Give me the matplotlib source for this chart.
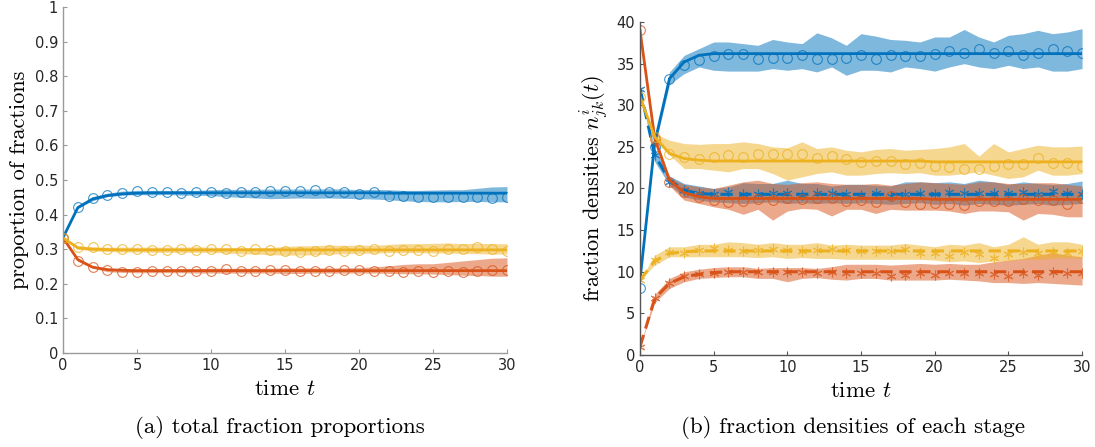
import matplotlib
matplotlib.use('Agg')
import matplotlib.pyplot as plt
from matplotlib.ticker import FormatStrFormatter

plt.rcParams['mathtext.fontset'] = 'cm'
plt.rcParams['font.family'] = 'DejaVu Sans'

# warna default MATLAB
biru = '#0072BD'
merah = '#D95319'
kuning = '#EDB120'

t = list(range(31))

# ---- panel (a): proporsi total ----
a_biru_model = [0.333, 0.420, 0.445, 0.455, 0.460, 0.462, 0.463, 0.463, 0.463, 0.463, 0.463,
                0.463, 0.463, 0.463, 0.463, 0.463, 0.463, 0.463, 0.463, 0.463, 0.463,
                0.463, 0.462, 0.462, 0.462, 0.462, 0.462, 0.462, 0.462, 0.462, 0.462]
a_biru_titik = [0.333, 0.422, 0.448, 0.457, 0.462, 0.467, 0.465, 0.465, 0.462, 0.465, 0.465,
                0.462, 0.465, 0.465, 0.468, 0.468, 0.468, 0.470, 0.465, 0.465, 0.460,
                0.465, 0.455, 0.455, 0.452, 0.452, 0.452, 0.452, 0.450, 0.448, 0.450]
a_biru_atas = [0.333, 0.426, 0.452, 0.462, 0.468, 0.470, 0.470, 0.470, 0.470, 0.470, 0.472,
               0.473, 0.473, 0.473, 0.474, 0.474, 0.474, 0.474, 0.475, 0.474, 0.472,
               0.473, 0.472, 0.470, 0.470, 0.471, 0.472, 0.472, 0.476, 0.480, 0.481]
a_biru_bawah = [0.333, 0.418, 0.440, 0.452, 0.456, 0.458, 0.457, 0.458, 0.456, 0.456, 0.455,
                0.452, 0.450, 0.448, 0.446, 0.447, 0.448, 0.447, 0.448, 0.447, 0.446,
                0.445, 0.443, 0.440, 0.438, 0.437, 0.437, 0.438, 0.438, 0.437, 0.437]

a_kuning_model = [0.333, 0.304, 0.300, 0.299, 0.298, 0.298, 0.298, 0.298, 0.298, 0.298, 0.298,
                  0.298, 0.298, 0.298, 0.298, 0.298, 0.298, 0.298, 0.298, 0.298, 0.298,
                  0.298, 0.298, 0.298, 0.298, 0.298, 0.298, 0.298, 0.298, 0.298, 0.298]
a_kuning_titik = [0.333, 0.305, 0.305, 0.300, 0.302, 0.300, 0.298, 0.298, 0.300, 0.298, 0.300,
                  0.300, 0.296, 0.300, 0.298, 0.295, 0.293, 0.295, 0.298, 0.296, 0.298,
                  0.300, 0.294, 0.298, 0.298, 0.296, 0.302, 0.300, 0.305, 0.300, 0.296]
a_kuning_atas = [0.333, 0.310, 0.307, 0.306, 0.306, 0.306, 0.306, 0.306, 0.306, 0.307, 0.306,
                 0.305, 0.305, 0.305, 0.305, 0.308, 0.310, 0.310, 0.312, 0.311, 0.312,
                 0.311, 0.314, 0.316, 0.316, 0.317, 0.318, 0.316, 0.317, 0.316, 0.316]
a_kuning_bawah = [0.333, 0.300, 0.295, 0.293, 0.292, 0.292, 0.291, 0.291, 0.291, 0.291, 0.291,
                  0.289, 0.287, 0.286, 0.284, 0.283, 0.283, 0.284, 0.286, 0.287, 0.288,
                  0.289, 0.290, 0.290, 0.290, 0.289, 0.289, 0.288, 0.287, 0.286, 0.286]

a_merah_model = [0.333, 0.270, 0.248, 0.241, 0.239, 0.238, 0.238, 0.238, 0.238, 0.238, 0.238,
                 0.238, 0.238, 0.238, 0.238, 0.238, 0.238, 0.238, 0.238, 0.238, 0.238,
                 0.238, 0.238, 0.238, 0.238, 0.238, 0.238, 0.238, 0.238, 0.238, 0.238]
a_merah_titik = [0.333, 0.267, 0.248, 0.240, 0.235, 0.235, 0.238, 0.237, 0.237, 0.238, 0.238,
                 0.243, 0.238, 0.238, 0.240, 0.240, 0.237, 0.238, 0.238, 0.240, 0.240,
                 0.238, 0.237, 0.235, 0.237, 0.235, 0.237, 0.235, 0.238, 0.240, 0.240]
a_merah_atas = [0.333, 0.272, 0.252, 0.244, 0.242, 0.243, 0.243, 0.243, 0.243, 0.243, 0.245,
                0.245, 0.245, 0.245, 0.245, 0.246, 0.246, 0.246, 0.246, 0.246, 0.247,
                0.249, 0.252, 0.256, 0.258, 0.258, 0.262, 0.266, 0.270, 0.274, 0.275]
a_merah_bawah = [0.333, 0.265, 0.245, 0.235, 0.233, 0.232, 0.232, 0.232, 0.232, 0.231, 0.231,
                 0.231, 0.231, 0.231, 0.231, 0.230, 0.230, 0.231, 0.231, 0.231, 0.231,
                 0.231, 0.230, 0.229, 0.229, 0.228, 0.227, 0.225, 0.224, 0.222, 0.222]

# ---- panel (b): densitas tiap tahap ----
b_biru_model = [9.0, 25.5, 33.2, 35.2, 36.0, 36.2, 36.2, 36.2, 36.2, 36.2, 36.2,
                36.2, 36.2, 36.2, 36.2, 36.2, 36.2, 36.2, 36.2, 36.2, 36.2,
                36.2, 36.2, 36.2, 36.2, 36.2, 36.2, 36.2, 36.2, 36.2, 36.2]
b_biru_titik = [8.0, 25.0, 33.2, 34.8, 35.4, 35.9, 36.1, 36.2, 35.6, 35.7, 35.7,
                36.0, 35.6, 35.6, 35.7, 36.0, 35.6, 36.0, 35.9, 35.9, 36.2,
                36.5, 36.3, 36.8, 36.3, 36.5, 36.0, 36.3, 36.7, 36.5, 36.3]
b_biru_atas = [9.0, 26.0, 34.0, 36.0, 36.8, 37.6, 37.6, 37.4, 37.2, 37.9, 37.6,
               37.4, 38.7, 38.1, 37.2, 38.6, 38.3, 37.9, 37.8, 37.6, 38.2,
               38.2, 39.1, 38.2, 37.6, 38.4, 38.6, 39.0, 38.6, 38.8, 39.2]
b_biru_bawah = [9.0, 25.0, 32.5, 33.8, 34.6, 34.2, 34.1, 34.1, 34.1, 34.4, 34.2,
                34.4, 34.0, 34.6, 33.6, 34.2, 34.2, 34.0, 34.6, 34.4, 34.1,
                34.6, 35.0, 34.6, 34.4, 34.8, 34.4, 34.6, 34.1, 34.1, 34.4]

b_biru2_model = [32.0, 24.0, 21.0, 19.8, 19.4, 19.3, 19.3, 19.3, 19.3, 19.3, 19.3,
                 19.3, 19.3, 19.3, 19.3, 19.3, 19.3, 19.3, 19.3, 19.3, 19.3,
                 19.3, 19.3, 19.3, 19.3, 19.3, 19.3, 19.3, 19.3, 19.3, 19.3]
b_biru2_titik = [32.0, 24.0, 20.8, 19.8, 19.5, 19.3, 19.6, 19.3, 19.3, 19.4, 19.5,
                 19.2, 19.4, 19.4, 19.3, 19.2, 19.4, 19.1, 19.3, 19.4, 19.3,
                 19.6, 19.5, 19.5, 19.4, 19.4, 19.6, 19.3, 19.7, 19.4, 19.3]
b_biru2_atas = [32.0, 24.8, 21.5, 20.6, 20.3, 20.0, 20.2, 20.7, 20.6, 20.6, 21.0,
                20.6, 20.6, 20.3, 20.5, 20.5, 20.4, 20.3, 20.8, 20.8, 20.7,
                20.8, 20.6, 21.0, 20.8, 20.5, 20.8, 20.6, 20.5, 20.6, 20.9]
b_biru2_bawah = [32.0, 23.2, 20.4, 19.0, 18.6, 18.4, 18.3, 18.2, 18.3, 18.4, 18.2,
                 18.3, 18.2, 18.3, 18.2, 18.3, 18.2, 18.1, 18.2, 18.3, 18.1,
                 18.2, 18.0, 18.2, 18.1, 18.0, 18.1, 18.2, 18.0, 18.1, 18.2]

b_merah_model = [39.0, 26.0, 21.0, 19.5, 19.0, 18.8, 18.8, 18.8, 18.8, 18.8, 18.8,
                 18.8, 18.8, 18.8, 18.8, 18.8, 18.8, 18.8, 18.8, 18.8, 18.7,
                 18.7, 18.7, 18.7, 18.7, 18.7, 18.7, 18.7, 18.7, 18.7, 18.7]
b_merah_titik = [39.0, 26.0, 20.8, 19.6, 19.0, 18.6, 18.4, 18.5, 18.7, 18.6, 18.8,
                 18.7, 18.9, 18.9, 18.5, 18.6, 18.4, 19.1, 18.4, 18.1, 18.2,
                 18.1, 18.0, 18.5, 18.5, 18.5, 18.7, 18.6, 18.6, 18.1, 18.8]
b_merah_atas = [39.0, 26.5, 21.3, 20.5, 20.2, 20.0, 20.4, 20.8, 21.0, 20.6, 20.5,
                20.7, 20.8, 20.6, 20.5, 20.5, 20.6, 20.4, 20.6, 20.8, 20.7,
                20.6, 20.5, 20.8, 20.8, 20.6, 20.6, 20.7, 20.7, 20.5, 20.3]
b_merah_bawah = [39.0, 25.5, 20.3, 18.6, 18.2, 17.8, 17.5, 16.9, 17.5, 16.2, 17.3,
                 17.6, 17.5, 16.7, 17.5, 17.5, 17.0, 17.5, 17.4, 17.4, 17.4,
                 17.3, 17.0, 17.3, 17.3, 17.2, 16.2, 17.0, 16.9, 16.6, 16.6]

b_merah2_model = [1.0, 6.8, 8.6, 9.4, 9.7, 9.9, 10.0, 10.0, 10.0, 10.0, 10.0,
                  10.0, 10.0, 10.0, 10.0, 10.0, 10.0, 10.0, 10.0, 10.0, 10.0,
                  10.0, 10.0, 10.0, 10.0, 10.0, 10.0, 10.0, 10.0, 10.0, 10.0]
b_merah2_titik = [1.0, 6.8, 8.7, 9.5, 9.7, 9.9, 10.0, 10.0, 10.0, 10.0, 10.0,
                  10.0, 9.9, 10.0, 9.8, 9.9, 9.9, 9.5, 9.6, 9.8, 9.6,
                  9.8, 9.8, 9.9, 9.7, 9.5, 9.8, 9.6, 10.0, 9.9, 9.8]
b_merah2_atas = [1.0, 7.3, 9.2, 10.0, 10.3, 10.5, 10.6, 10.6, 10.4, 10.5, 10.5,
                 10.5, 10.4, 10.6, 10.9, 10.9, 10.9, 10.8, 10.9, 11.0, 10.9,
                 11.0, 10.9, 10.9, 11.2, 11.4, 11.6, 12.0, 12.3, 12.0, 11.8]
b_merah2_bawah = [1.0, 6.3, 8.0, 8.8, 9.2, 9.3, 9.4, 9.4, 9.2, 9.2, 8.8,
                  9.2, 9.3, 9.1, 9.0, 9.2, 9.2, 9.0, 9.0, 9.0, 9.0,
                  9.1, 9.0, 8.9, 8.7, 8.7, 8.6, 8.7, 8.6, 8.5, 8.4]

b_kuning_model = [31.0, 26.2, 24.2, 23.6, 23.4, 23.3, 23.3, 23.3, 23.3, 23.3, 23.3,
                  23.3, 23.3, 23.3, 23.3, 23.3, 23.3, 23.3, 23.3, 23.3, 23.2,
                  23.2, 23.2, 23.2, 23.2, 23.2, 23.2, 23.2, 23.2, 23.2, 23.2]
b_kuning_titik = [31.0, 26.2, 24.1, 23.8, 23.6, 23.8, 24.0, 23.8, 24.1, 24.1, 24.1,
                  24.2, 23.7, 23.9, 23.6, 23.2, 23.3, 23.3, 23.0, 23.1, 22.7,
                  22.6, 22.4, 22.3, 22.7, 23.0, 22.9, 23.7, 23.1, 23.1, 22.7]
b_kuning_atas = [31.0, 26.6, 25.8, 25.4, 25.3, 25.4, 25.4, 25.6, 25.4, 25.0, 24.9,
                 25.6, 24.8, 25.0, 24.6, 24.4, 24.7, 24.8, 24.6, 24.7, 24.8,
                 25.0, 25.4, 23.9, 25.4, 24.4, 24.8, 25.2, 25.0, 25.0, 25.1]
b_kuning_bawah = [31.0, 25.8, 24.0, 22.4, 22.4, 22.2, 22.0, 22.4, 22.4, 21.8, 21.0,
                  21.4, 21.8, 22.0, 21.6, 21.6, 21.8, 21.9, 21.8, 21.9, 21.6,
                  21.6, 21.8, 22.0, 21.6, 21.2, 21.4, 22.2, 21.6, 21.6, 21.8]

b_kuning2_model = [9.0, 11.3, 12.2, 12.4, 12.5, 12.5, 12.5, 12.5, 12.5, 12.5, 12.5,
                   12.5, 12.5, 12.5, 12.5, 12.5, 12.5, 12.5, 12.5, 12.5, 12.5,
                   12.5, 12.5, 12.5, 12.5, 12.5, 12.5, 12.5, 12.5, 12.5, 12.5]
b_kuning2_titik = [9.0, 11.4, 12.4, 12.2, 12.6, 12.9, 12.6, 12.5, 12.6, 12.7, 12.6,
                   12.5, 12.6, 12.7, 12.6, 12.5, 12.5, 12.5, 12.7, 12.2, 12.3,
                   11.9, 12.4, 12.1, 11.7, 12.1, 12.4, 12.3, 12.4, 12.3, 12.5]
b_kuning2_atas = [9.0, 12.0, 13.0, 13.0, 13.3, 13.3, 13.6, 13.5, 13.3, 13.5, 13.3,
                  13.3, 13.5, 13.2, 13.3, 13.2, 13.2, 13.2, 13.4, 13.2, 13.0,
                  13.3, 13.2, 13.5, 13.0, 13.3, 14.2, 13.3, 13.6, 13.6, 13.3]
b_kuning2_bawah = [9.0, 10.8, 11.8, 11.8, 11.8, 11.8, 11.8, 11.8, 11.7, 11.8, 11.6,
                   11.7, 11.6, 11.6, 11.5, 11.5, 11.5, 11.5, 11.5, 11.5, 11.4,
                   11.2, 11.3, 11.1, 11.3, 11.3, 11.5, 11.5, 11.6, 11.7, 11.6]

xticks = [0, 5, 10, 15, 20, 25, 30]
a_yticks = [0, 0.1, 0.2, 0.3, 0.4, 0.5, 0.6, 0.7, 0.8, 0.9, 1]
b_yticks = [0, 5, 10, 15, 20, 25, 30, 35, 40]

bintang = (6, 2, 0)  # penanda asterisk gaya MATLAB


def gambar_seri(ax, model, titik, atas, bawah, warna, mk, gaya):
    ax.fill_between(t, bawah, atas, color=warna, alpha=0.5, lw=0)
    if gaya == '-':
        ax.plot(t, model, '-', color=warna, lw=2.0)
    else:
        ax.plot(t, model, '--', color=warna, lw=2.2, dashes=(4, 2.2))
    ax.plot(t, titik, ls='none', marker=mk, color=warna, ms=7, mfc='none',
            mew=0.8, alpha=0.75)


def atur_sumbu(ax, warna_spine):
    for s in ['top', 'right']:
        ax.spines[s].set_visible(False)
    for s in ['left', 'bottom']:
        ax.spines[s].set_color(warna_spine)
        ax.spines[s].set_linewidth(1.0)
    ax.tick_params(direction='in', length=3, width=0.8, color=warna_spine,
                   labelsize=10.5, labelcolor='#262626')
    ax.set_xlim(0, 30)
    ax.set_xticks(xticks)
    ax.set_xlabel('time $t$', fontsize=16.5, family='cmr10', labelpad=5)


fig = plt.figure(figsize=(10.95, 4.47), dpi=100)

ax1 = fig.add_axes([0.0575, 0.2103, 0.4055, 0.7740])
gambar_seri(ax1, a_biru_model, a_biru_titik, a_biru_atas, a_biru_bawah, biru, 'o', '-')
gambar_seri(ax1, a_merah_model, a_merah_titik, a_merah_atas, a_merah_bawah, merah, 'o', '-')
gambar_seri(ax1, a_kuning_model, a_kuning_titik, a_kuning_atas, a_kuning_bawah, kuning, 'o', '-')
atur_sumbu(ax1, '#9a9a9a')
ax1.set_ylim(0, 1)
ax1.set_yticks(a_yticks)
ax1.yaxis.set_major_formatter(FormatStrFormatter('%g'))
ax1.set_ylabel('proportion of fractions', fontsize=16, family='cmr10', labelpad=4)

ax2 = fig.add_axes([0.5845, 0.2058, 0.4037, 0.7450])
gambar_seri(ax2, b_biru_model, b_biru_titik, b_biru_atas, b_biru_bawah, biru, 'o', '-')
gambar_seri(ax2, b_biru2_model, b_biru2_titik, b_biru2_atas, b_biru2_bawah, biru, bintang, '--')
gambar_seri(ax2, b_merah_model, b_merah_titik, b_merah_atas, b_merah_bawah, merah, 'o', '-')
gambar_seri(ax2, b_merah2_model, b_merah2_titik, b_merah2_atas, b_merah2_bawah, merah, bintang, '--')
gambar_seri(ax2, b_kuning_model, b_kuning_titik, b_kuning_atas, b_kuning_bawah, kuning, 'o', '-')
gambar_seri(ax2, b_kuning2_model, b_kuning2_titik, b_kuning2_atas, b_kuning2_bawah, kuning, bintang, '--')
atur_sumbu(ax2, '#555555')
ax2.set_ylim(0, 40)
ax2.set_yticks(b_yticks)
ax2.set_ylabel('fraction densities $n^i_{jk}(t)$', fontsize=16, family='cmr10', labelpad=4)

fig.text(0.256, 0.043, '(a) total fraction proportions', ha='center', va='center',
         fontsize=16.5, family='cmr10')
fig.text(0.779, 0.043, '(b) fraction densities of each stage', ha='center', va='center',
         fontsize=16.5, family='cmr10')

fig.savefig('out.png', dpi=100)
